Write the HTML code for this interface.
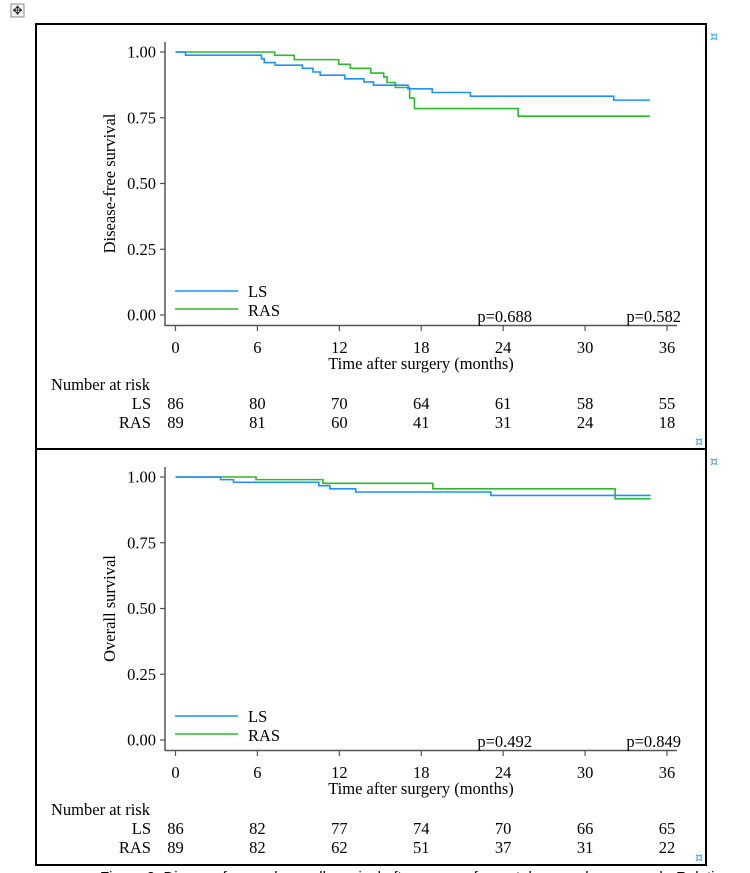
<!DOCTYPE html>
<html><head><meta charset="utf-8">
<style>
html,body{margin:0;padding:0;background:#fff;}
svg{display:block;font-family:"Liberation Serif",serif;}
</style></head>
<body>
<svg id="fig" width="750" height="873" viewBox="0 0 750 873" xmlns="http://www.w3.org/2000/svg">
  <g>
    <rect x="11" y="4" width="13" height="13" fill="#f4f4f4" stroke="#888" stroke-width="1"/>
    <text x="17.5" y="14.5" font-size="12" text-anchor="middle" fill="#222" font-family="DejaVu Sans, sans-serif">✥</text>
  </g>
  <rect x="36" y="24" width="670" height="841" fill="none" stroke="#000" stroke-width="2"/>
  <line x1="36" y1="449" x2="706" y2="449" stroke="#000" stroke-width="2"/>
  <text x="710" y="41" font-size="13" fill="#3aa0e8" font-family="DejaVu Sans, sans-serif">¤</text>
  <text x="695" y="446" font-size="13" fill="#3aa0e8" font-family="DejaVu Sans, sans-serif">¤</text>
  <text x="710" y="466" font-size="13" fill="#3aa0e8" font-family="DejaVu Sans, sans-serif">¤</text>
  <text x="695" y="862" font-size="13" fill="#3aa0e8" font-family="DejaVu Sans, sans-serif">¤</text>
  <text x="100" y="882" font-size="15" fill="#000" font-family="Liberation Sans, sans-serif">Figure 2. Disease-free and overall survival after surgery for rectal cancer by approach. Relative</text>
</svg>
<script>
// Panel 1: disease-free survival
const months = [0, 6, 12, 18, 24, 30, 36];
const yTicks = [0, 0.25, 0.5, 0.75, 1.0];
const yTickLabels = ["0.00", "0.25", "0.50", "0.75", "1.00"];
const dfsLsTimes = [0, 0.73, 6.3, 6.5, 7.3, 9.3, 10.07, 10.6, 12.4, 13.8, 14.5, 17.03, 18.8, 21.6, 32.1, 34.75];
const dfsLsSurv  = [1, 0.988, 0.974, 0.96, 0.95, 0.938, 0.924, 0.912, 0.898, 0.886, 0.874, 0.86, 0.846, 0.832, 0.817, 0.817];
const dfsRasTimes = [0, 7.26, 8.7, 11.95, 12.8, 14.3, 15.25, 15.5, 16.1, 17.15, 17.5, 25.1, 34.75];
const dfsRasSurv  = [1, 0.9875, 0.971, 0.953, 0.938, 0.92, 0.905, 0.884, 0.865, 0.825, 0.785, 0.756, 0.756];
const dfsRiskLS = [86, 80, 70, 64, 61, 58, 55];
const dfsRiskRAS = [89, 81, 60, 41, 31, 24, 18];
const dfsPvalues = ["p=0.688", "p=0.582"];
// Panel 2: overall survival
const osLsTimes = [0, 3.3, 4.25, 10.5, 11.3, 13.2, 23.1, 34.8];
const osLsSurv  = [1, 0.99, 0.98, 0.967, 0.955, 0.943, 0.93, 0.93];
const osRasTimes = [0, 5.9, 10.8, 18.85, 32.2, 34.8];
const osRasSurv  = [1, 0.99, 0.976, 0.955, 0.917, 0.917];
const osRiskLS = [86, 82, 77, 74, 70, 66, 65];
const osRiskRAS = [89, 82, 62, 51, 37, 31, 22];
const osPvalues = ["p=0.492", "p=0.849"];

const NS = "http://www.w3.org/2000/svg";
const svg = document.getElementById("fig");
const FS = 16.5;
function mk(tag, attrs, parent, text) {
  const e = document.createElementNS(NS, tag);
  for (const k in attrs) e.setAttribute(k, attrs[k]);
  if (text !== undefined) e.textContent = text;
  parent.appendChild(e);
  return e;
}

function panel(off, ytitle, lsT, lsS, rasT, rasS, riskLS, riskRAS, pv, pname) {
  const g = mk("g", {}, svg);
  
  
  const xs = m => 175.5 + m * (667 - 175.5) / 36;
  const ys = v => off + 315 - v * 263;
  const ax = mk("g", {}, g);
  
  
  mk("line", {x1:165, y1:off+42, x2:165, y2:off+326, stroke:"#555", "stroke-width":1.5}, ax);
  yTicks.forEach((t, i) => {
    mk("line", {x1:160, y1:ys(t), x2:165, y2:ys(t), stroke:"#555", "stroke-width":1.2}, ax);
    const tl = mk("text", {x:156, y:ys(t)+5.5, "font-size":FS, "text-anchor":"end"}, ax, yTickLabels[i]);
    
    
  });
  const yt = mk("text", {x:0, y:0, "font-size":FS, "text-anchor":"middle", transform:`translate(115,${ys(0.5)}) rotate(-90)`}, g, ytitle);
  
  
  const xa = mk("g", {}, g);
  
  
  mk("line", {x1:165, y1:off+325.5, x2:677, y2:off+325.5, stroke:"#555", "stroke-width":1.5}, xa);
  months.forEach(m => {
    mk("line", {x1:xs(m), y1:off+326, x2:xs(m), y2:off+331, stroke:"#555", "stroke-width":1.2}, xa);
    const tl = mk("text", {x:xs(m), y:off+353, "font-size":FS, "text-anchor":"middle"}, xa, String(m));
    
    
  });
  const xt = mk("text", {x:421, y:off+369, "font-size":FS, "text-anchor":"middle"}, g, "Time after surgery (months)");
  
  
  function step(T, S, color, name) {
    let d = `M${xs(T[0])},${ys(S[0])}`;
    for (let i = 1; i < T.length; i++) {
      d += ` H${xs(T[i])} V${ys(S[i])}`;
    }
    const p = mk("path", {d:d, fill:"none", stroke:color, "stroke-width":1.6}, g);
    
    
  }
  step(rasT, rasS, "#2db82d", "ras-curve");
  step(lsT, lsS, "#1e90ff", "ls-curve");
  const lg = mk("g", {}, g);
  
  
  const l1 = mk("g", {}, lg);
  
  
  mk("line", {x1:175, y1:off+291, x2:238, y2:off+291, stroke:"#1e90ff", "stroke-width":1.6}, l1);
  mk("text", {x:248, y:off+297, "font-size":FS}, l1, "LS");
  const l2 = mk("g", {}, lg);
  
  
  mk("line", {x1:175, y1:off+309, x2:238, y2:off+309, stroke:"#2db82d", "stroke-width":1.6}, l2);
  mk("text", {x:248, y:off+316, "font-size":FS}, l2, "RAS");
  const p1 = mk("text", {x:532, y:off+322, "font-size":FS, "text-anchor":"end"}, g, pv[0]);
  
  
  const p2 = mk("text", {x:681, y:off+322, "font-size":FS, "text-anchor":"end"}, g, pv[1]);
  
  
  const rt = mk("g", {}, g);
  
  
  mk("text", {x:51, y:off+390, "font-size":FS}, rt, "Number at risk");
  mk("text", {x:151, y:off+409, "font-size":FS, "text-anchor":"end"}, rt, "LS");
  mk("text", {x:151, y:off+428, "font-size":FS, "text-anchor":"end"}, rt, "RAS");
  months.forEach((m, i) => {
    const a = mk("text", {x:xs(m), y:off+409, "font-size":FS, "text-anchor":"middle"}, rt, String(riskLS[i]));
    
    
    const b = mk("text", {x:xs(m), y:off+428, "font-size":FS, "text-anchor":"middle"}, rt, String(riskRAS[i]));
    
    
  });
}
panel(0, "Disease-free survival", dfsLsTimes, dfsLsSurv, dfsRasTimes, dfsRasSurv, dfsRiskLS, dfsRiskRAS, dfsPvalues, "dfs-panel");
panel(425, "Overall survival", osLsTimes, osLsSurv, osRasTimes, osRasSurv, osRiskLS, osRiskRAS, osPvalues, "os-panel");
</script>
</body></html>
